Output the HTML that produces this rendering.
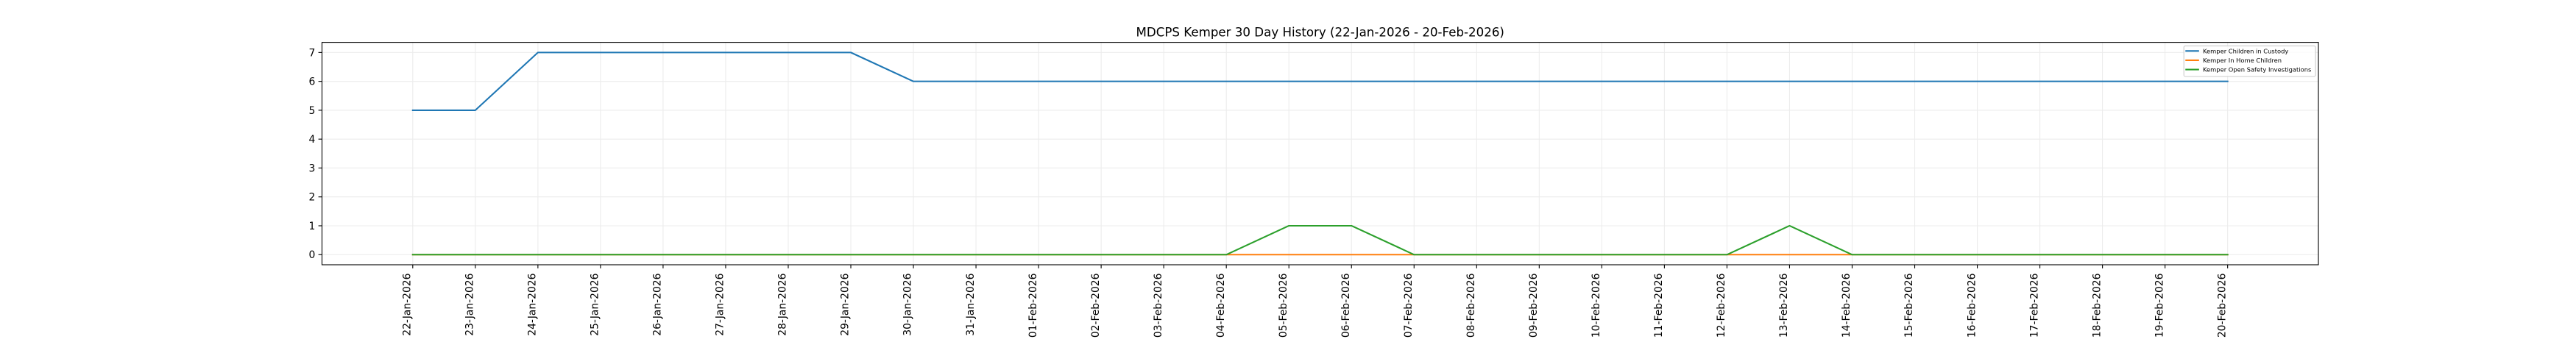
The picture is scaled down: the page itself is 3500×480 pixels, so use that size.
<!DOCTYPE html>
<html><head><meta charset="utf-8"><style>
html,body{margin:0;padding:0;background:#fff;}
svg{display:block;}
text{font-family:"DejaVu Sans","Liberation Sans",sans-serif;fill:#000;}
</style></head><body>
<svg width="3500" height="480" viewBox="0 0 3500 480" xmlns="http://www.w3.org/2000/svg">
<rect width="3500" height="480" fill="#fff"/>
<!-- grid -->
<g stroke="#ececec" stroke-width="1.1">
<line x1="560.8" y1="57.6" x2="560.8" y2="360"/>
<line x1="645.83" y1="57.6" x2="645.83" y2="360"/>
<line x1="730.86" y1="57.6" x2="730.86" y2="360"/>
<line x1="815.89" y1="57.6" x2="815.89" y2="360"/>
<line x1="900.92" y1="57.6" x2="900.92" y2="360"/>
<line x1="985.95" y1="57.6" x2="985.95" y2="360"/>
<line x1="1070.98" y1="57.6" x2="1070.98" y2="360"/>
<line x1="1156.01" y1="57.6" x2="1156.01" y2="360"/>
<line x1="1241.04" y1="57.6" x2="1241.04" y2="360"/>
<line x1="1326.07" y1="57.6" x2="1326.07" y2="360"/>
<line x1="1411.1" y1="57.6" x2="1411.1" y2="360"/>
<line x1="1496.13" y1="57.6" x2="1496.13" y2="360"/>
<line x1="1581.16" y1="57.6" x2="1581.16" y2="360"/>
<line x1="1666.19" y1="57.6" x2="1666.19" y2="360"/>
<line x1="1751.22" y1="57.6" x2="1751.22" y2="360"/>
<line x1="1836.25" y1="57.6" x2="1836.25" y2="360"/>
<line x1="1921.28" y1="57.6" x2="1921.28" y2="360"/>
<line x1="2006.31" y1="57.6" x2="2006.31" y2="360"/>
<line x1="2091.34" y1="57.6" x2="2091.34" y2="360"/>
<line x1="2176.37" y1="57.6" x2="2176.37" y2="360"/>
<line x1="2261.4" y1="57.6" x2="2261.4" y2="360"/>
<line x1="2346.43" y1="57.6" x2="2346.43" y2="360"/>
<line x1="2431.46" y1="57.6" x2="2431.46" y2="360"/>
<line x1="2516.49" y1="57.6" x2="2516.49" y2="360"/>
<line x1="2601.52" y1="57.6" x2="2601.52" y2="360"/>
<line x1="2686.55" y1="57.6" x2="2686.55" y2="360"/>
<line x1="2771.58" y1="57.6" x2="2771.58" y2="360"/>
<line x1="2856.61" y1="57.6" x2="2856.61" y2="360"/>
<line x1="2941.64" y1="57.6" x2="2941.64" y2="360"/>
<line x1="3026.67" y1="57.6" x2="3026.67" y2="360"/>
<line x1="437.5" y1="346.26" x2="3150" y2="346.26"/>
<line x1="437.5" y1="306.99" x2="3150" y2="306.99"/>
<line x1="437.5" y1="267.72" x2="3150" y2="267.72"/>
<line x1="437.5" y1="228.45" x2="3150" y2="228.45"/>
<line x1="437.5" y1="189.18" x2="3150" y2="189.18"/>
<line x1="437.5" y1="149.91" x2="3150" y2="149.91"/>
<line x1="437.5" y1="110.64" x2="3150" y2="110.64"/>
<line x1="437.5" y1="71.37" x2="3150" y2="71.37"/>
</g>
<!-- series -->
<g fill="none" stroke-width="2.08" stroke-linecap="square" stroke-linejoin="round">
<polyline stroke="#1f77b4" points="560.8,149.91 645.83,149.91 730.86,71.37 1156.01,71.37 1241.04,110.64 3026.67,110.64"/>
<polyline stroke="#ff7f0e" points="560.8,346.26 3026.67,346.26"/>
<polyline stroke="#2ca02c" points="560.8,346.26 1666.19,346.26 1751.22,306.99 1836.25,306.99 1921.28,346.26 2346.43,346.26 2431.46,306.99 2516.49,346.26 3026.67,346.26"/>
</g>
<!-- axes frame -->
<rect x="437.5" y="57.6" width="2712.5" height="302.4" fill="none" stroke="#000" stroke-width="1.11"/>
<!-- y ticks -->
<g stroke="#000" stroke-width="1.11">
<line x1="432.6" y1="346.26" x2="437.5" y2="346.26"/>
<line x1="432.6" y1="306.99" x2="437.5" y2="306.99"/>
<line x1="432.6" y1="267.72" x2="437.5" y2="267.72"/>
<line x1="432.6" y1="228.45" x2="437.5" y2="228.45"/>
<line x1="432.6" y1="189.18" x2="437.5" y2="189.18"/>
<line x1="432.6" y1="149.91" x2="437.5" y2="149.91"/>
<line x1="432.6" y1="110.64" x2="437.5" y2="110.64"/>
<line x1="432.6" y1="71.37" x2="437.5" y2="71.37"/>
</g>
<g font-size="13.9" text-anchor="end">
<text x="428.3" y="351.2">0</text>
<text x="428.3" y="311.9">1</text>
<text x="428.3" y="272.6">2</text>
<text x="428.3" y="233.4">3</text>
<text x="428.3" y="194.1">4</text>
<text x="428.3" y="154.8">5</text>
<text x="428.3" y="115.6">6</text>
<text x="428.3" y="76.3">7</text>
</g>
<!-- x ticks -->
<g stroke="#000" stroke-width="1.11">
<line x1="560.8" y1="360" x2="560.8" y2="364.9"/>
<line x1="645.83" y1="360" x2="645.83" y2="364.9"/>
<line x1="730.86" y1="360" x2="730.86" y2="364.9"/>
<line x1="815.89" y1="360" x2="815.89" y2="364.9"/>
<line x1="900.92" y1="360" x2="900.92" y2="364.9"/>
<line x1="985.95" y1="360" x2="985.95" y2="364.9"/>
<line x1="1070.98" y1="360" x2="1070.98" y2="364.9"/>
<line x1="1156.01" y1="360" x2="1156.01" y2="364.9"/>
<line x1="1241.04" y1="360" x2="1241.04" y2="364.9"/>
<line x1="1326.07" y1="360" x2="1326.07" y2="364.9"/>
<line x1="1411.1" y1="360" x2="1411.1" y2="364.9"/>
<line x1="1496.13" y1="360" x2="1496.13" y2="364.9"/>
<line x1="1581.16" y1="360" x2="1581.16" y2="364.9"/>
<line x1="1666.19" y1="360" x2="1666.19" y2="364.9"/>
<line x1="1751.22" y1="360" x2="1751.22" y2="364.9"/>
<line x1="1836.25" y1="360" x2="1836.25" y2="364.9"/>
<line x1="1921.28" y1="360" x2="1921.28" y2="364.9"/>
<line x1="2006.31" y1="360" x2="2006.31" y2="364.9"/>
<line x1="2091.34" y1="360" x2="2091.34" y2="364.9"/>
<line x1="2176.37" y1="360" x2="2176.37" y2="364.9"/>
<line x1="2261.4" y1="360" x2="2261.4" y2="364.9"/>
<line x1="2346.43" y1="360" x2="2346.43" y2="364.9"/>
<line x1="2431.46" y1="360" x2="2431.46" y2="364.9"/>
<line x1="2516.49" y1="360" x2="2516.49" y2="364.9"/>
<line x1="2601.52" y1="360" x2="2601.52" y2="364.9"/>
<line x1="2686.55" y1="360" x2="2686.55" y2="364.9"/>
<line x1="2771.58" y1="360" x2="2771.58" y2="364.9"/>
<line x1="2856.61" y1="360" x2="2856.61" y2="364.9"/>
<line x1="2941.64" y1="360" x2="2941.64" y2="364.9"/>
<line x1="3026.67" y1="360" x2="3026.67" y2="364.9"/>
</g>
<g font-size="13.9" text-anchor="end">
<text transform="translate(557.5,371.5) rotate(-90)">22-Jan-2026</text>
<text transform="translate(642.5,371.5) rotate(-90)">23-Jan-2026</text>
<text transform="translate(727.6,371.5) rotate(-90)">24-Jan-2026</text>
<text transform="translate(812.6,371.5) rotate(-90)">25-Jan-2026</text>
<text transform="translate(897.6,371.5) rotate(-90)">26-Jan-2026</text>
<text transform="translate(982.7,371.5) rotate(-90)">27-Jan-2026</text>
<text transform="translate(1067.7,371.5) rotate(-90)">28-Jan-2026</text>
<text transform="translate(1152.7,371.5) rotate(-90)">29-Jan-2026</text>
<text transform="translate(1237.7,371.5) rotate(-90)">30-Jan-2026</text>
<text transform="translate(1322.8,371.5) rotate(-90)">31-Jan-2026</text>
<text transform="translate(1407.8,371.5) rotate(-90)">01-Feb-2026</text>
<text transform="translate(1492.8,371.5) rotate(-90)">02-Feb-2026</text>
<text transform="translate(1577.9,371.5) rotate(-90)">03-Feb-2026</text>
<text transform="translate(1662.9,371.5) rotate(-90)">04-Feb-2026</text>
<text transform="translate(1747.9,371.5) rotate(-90)">05-Feb-2026</text>
<text transform="translate(1833,371.5) rotate(-90)">06-Feb-2026</text>
<text transform="translate(1918,371.5) rotate(-90)">07-Feb-2026</text>
<text transform="translate(2003,371.5) rotate(-90)">08-Feb-2026</text>
<text transform="translate(2088,371.5) rotate(-90)">09-Feb-2026</text>
<text transform="translate(2173.1,371.5) rotate(-90)">10-Feb-2026</text>
<text transform="translate(2258.1,371.5) rotate(-90)">11-Feb-2026</text>
<text transform="translate(2343.1,371.5) rotate(-90)">12-Feb-2026</text>
<text transform="translate(2428.2,371.5) rotate(-90)">13-Feb-2026</text>
<text transform="translate(2513.2,371.5) rotate(-90)">14-Feb-2026</text>
<text transform="translate(2598.2,371.5) rotate(-90)">15-Feb-2026</text>
<text transform="translate(2683.3,371.5) rotate(-90)">16-Feb-2026</text>
<text transform="translate(2768.3,371.5) rotate(-90)">17-Feb-2026</text>
<text transform="translate(2853.3,371.5) rotate(-90)">18-Feb-2026</text>
<text transform="translate(2938.3,371.5) rotate(-90)">19-Feb-2026</text>
<text transform="translate(3023.4,371.5) rotate(-90)">20-Feb-2026</text>
</g>
<!-- title -->
<text x="1793.75" y="49.3" font-size="16.67" text-anchor="middle">MDCPS Kemper 30 Day History (22-Jan-2026 - 20-Feb-2026)</text>
<!-- legend -->
<rect x="2967.2" y="62.4" width="178.9" height="41.6" rx="2" ry="2" fill="#fff" fill-opacity="0.8" stroke="#cccccc" stroke-width="1.1"/>
<g stroke-width="2.08" stroke-linecap="square">
<line x1="2970.3" y1="69.3" x2="2986.8" y2="69.3" stroke="#1f77b4"/>
<line x1="2970.3" y1="81.9" x2="2986.8" y2="81.9" stroke="#ff7f0e"/>
<line x1="2970.3" y1="94.6" x2="2986.8" y2="94.6" stroke="#2ca02c"/>
</g>
<g font-size="8.33">
<text x="2993" y="72.3">Kemper Children in Custody</text>
<text x="2993" y="84.9">Kemper In Home Children</text>
<text x="2993" y="97.6">Kemper Open Safety Investigations</text>
</g>
</svg>
</body></html>
